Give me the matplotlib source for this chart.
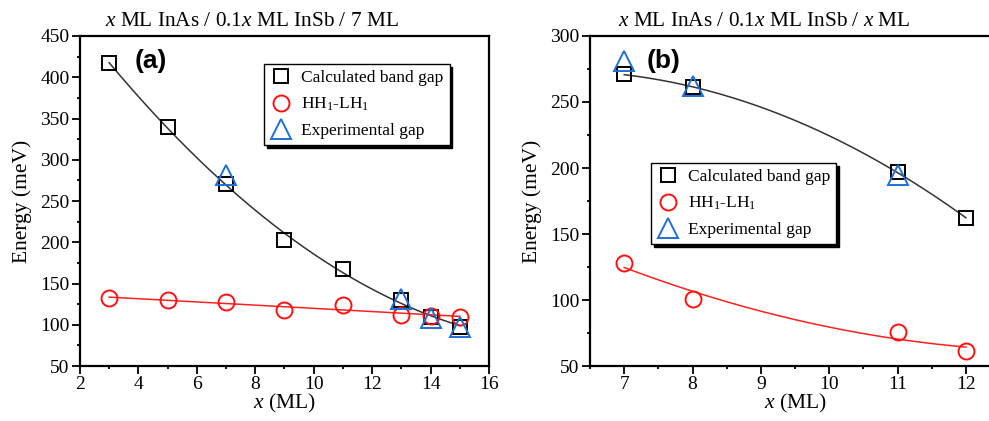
import numpy as np
import matplotlib
matplotlib.use("Agg")
import matplotlib.pyplot as plt
from matplotlib.ticker import MultipleLocator

plt.rcParams['font.family'] = ['Liberation Serif', 'DejaVu Serif']
plt.rcParams['mathtext.fontset'] = 'custom'
plt.rcParams['mathtext.rm'] = 'Liberation Serif'
plt.rcParams['mathtext.it'] = 'Liberation Serif:italic'

# panel (a): x ML InAs / 0.1x ML InSb / 7 ML
xa_calc = [3, 5, 7, 9, 11, 13, 14, 15]
ya_calc = [417, 340, 271, 203, 167, 130, 110, 97]
xa_hh = [3, 5, 7, 9, 11, 13, 14, 15]
ya_hh = [132, 130, 128, 118, 124, 112, 111, 110]
xa_exp = [7, 13, 14, 15]
ya_exp = [281, 131, 108, 97]

# panel (b): x ML InAs / 0.1x ML InSb / x ML
xb_calc = [7, 8, 11, 12]
yb_calc = [271, 261, 197, 162]
xb_hh = [7, 8, 11, 12]
yb_hh = [128, 101, 76, 61]
xb_exp = [7, 8, 11]
yb_exp = [281, 262, 195]

blue = '#1f6fd8'
fig = plt.figure(figsize=(9.89, 4.21), dpi=100)
axa = fig.add_axes([0.0809, 0.1306, 0.4135, 0.7839])
axb = fig.add_axes([0.5966, 0.1306, 0.4146, 0.7839])


def fit_line(ax, x, y, deg, color):
    p = np.polyfit(x, y, deg)
    xs = np.linspace(min(x), max(x), 200)
    ax.plot(xs, np.polyval(p, xs), color=color, lw=1.1, zorder=1)


def draw(ax, xc, yc, xh, yh, xe, ye, deg_c, deg_h):
    fit_line(ax, xc, yc, deg_c, '#333333')
    fit_line(ax, xh, yh, deg_h, '#ff2020')
    ax.plot(xc, yc, 's', ms=9.5, mfc='none', mec='black', mew=1.4, label='Calculated band gap', zorder=3)
    ax.plot(xh, yh, 'o', ms=11.5, mfc='none', mec='#ff1010', mew=1.4, label='HH$_1$-LH$_1$', zorder=3)
    ax.plot(xe, ye, '^', ms=14, mfc='none', mec=blue, mew=1.4, label='Experimental gap', zorder=4)
    ax.tick_params(axis='both', which='major', direction='out', length=6, width=1.3, labelsize=14, pad=1.5)
    ax.tick_params(axis='both', which='minor', direction='out', length=2.5, width=1.3)
    for s in ax.spines.values():
        s.set_linewidth(1.6)
    ax.set_ylabel('Energy (meV)', fontsize=15.5, labelpad=6)
    ax.set_xlabel('$x$ (ML)', fontsize=15.5, labelpad=-1)


draw(axa, xa_calc, ya_calc, xa_hh, ya_hh, xa_exp, ya_exp, 2, 1)
axa.set_xlim(2, 16)
axa.set_ylim(50, 450)
axa.xaxis.set_major_locator(MultipleLocator(2))
axa.xaxis.set_minor_locator(MultipleLocator(1))
axa.yaxis.set_major_locator(MultipleLocator(50))
axa.yaxis.set_minor_locator(MultipleLocator(25))
axa.set_title('$x$ ML InAs / 0.1$x$ ML InSb / 7 ML', fontsize=15.3, pad=7, x=0.42)
axa.text(0.134, 0.962, '(a)', transform=axa.transAxes, fontsize=19, fontweight='bold',
         family='Liberation Sans', va='top')
axa.legend(loc='upper left', bbox_to_anchor=(0.45, 0.915), frameon=True, fancybox=False,
           shadow={'color': 'black', 'alpha': 1}, edgecolor='black', fontsize=12.5,
           handletextpad=0.5, borderpad=0.35, labelspacing=0.55, handlelength=1.3,
           borderaxespad=0)

draw(axb, xb_calc, yb_calc, xb_hh, yb_hh, xb_exp, yb_exp, 2, 2)
axb.set_xlim(6.5, 12.5)
axb.set_ylim(50, 300)
axb.xaxis.set_major_locator(MultipleLocator(1))
axb.xaxis.set_minor_locator(MultipleLocator(0.5))
axb.yaxis.set_major_locator(MultipleLocator(50))
axb.yaxis.set_minor_locator(MultipleLocator(25))
axb.set_title('$x$ ML InAs / 0.1$x$ ML InSb / $x$ ML', fontsize=15.3, pad=7, x=0.424)
axb.text(0.139, 0.962, '(b)', transform=axb.transAxes, fontsize=19, fontweight='bold',
         family='Liberation Sans', va='top')
axb.legend(loc='upper left', bbox_to_anchor=(0.148, 0.615), frameon=True, fancybox=False,
           shadow={'color': 'black', 'alpha': 1}, edgecolor='black', fontsize=12.5,
           handletextpad=0.5, borderpad=0.35, labelspacing=0.55, handlelength=1.3,
           borderaxespad=0)

fig.savefig('out.png', dpi=100)
